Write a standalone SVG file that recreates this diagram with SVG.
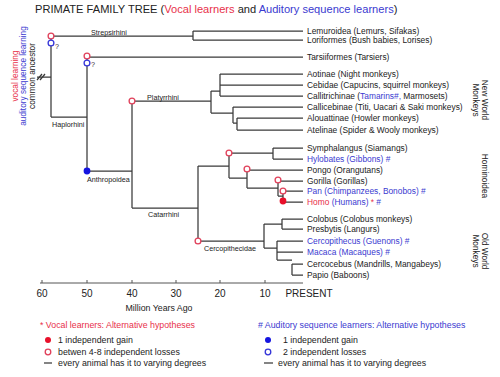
<svg xmlns="http://www.w3.org/2000/svg" width="500" height="377" viewBox="0 0 500 377">
<style>
text{font-family:"Liberation Sans",Arial,sans-serif;fill:#222}
.t{font-size:11.1px}
.leaf{font-size:8.4px}
.clade{font-size:7.2px;fill:#333}
.side{font-size:8.3px}
.ax{font-size:10px}
.lg{font-size:8.8px}
.r{fill:#e8304a}
.b{fill:#3a3ad0}
.k{fill:#222}
.br path{fill:none;stroke:#3a3a3a;stroke-width:1.25}
.oc{fill:#fff;stroke:#e0405a;stroke-width:1.3}
.ob{fill:#fff;stroke:#3535d8;stroke-width:1.3}
.fr{fill:#e8102a}
.fb{fill:#1515e0}
</style>

<g id="title">
<text class="t" x="35" y="13">PRIMATE FAMILY TREE (<tspan class="r">Vocal learners</tspan> and <tspan class="b">Auditory sequence learners</tspan>)</text>
</g>

<g id="ancestor-label" class="side" text-anchor="middle">
<text class="r" transform="translate(18,76) rotate(-90)">vocal learning</text>
<text class="b" transform="translate(26,76) rotate(-90)">auditory sequence learning</text>
<text class="k" transform="translate(34.5,76) rotate(-90)">common ancestor</text>
</g>

<g id="connectors" class="br">
<path d="M37,77H51M51,36V117M51,36H193M193,31V40M193,31H303M193,40H303"/>
<path d="M51,117H87M87,56V171M87,57H303"/>
<path d="M87,171H132M132,101V208M132,101H211M211,91V113M211,91H220M220,74V96M220,74H303M220,85H303M220,96H303"/>
<path d="M211,113H233M233,107V123M233,107H303M233,123H237M237,118V130M237,118H303M237,130H303"/>
<path d="M132,208H198M198,166V241M198,166H229M229,153V178M229,153H273M273,148V159M273,148H303M273,159H303"/>
<path d="M229,178H247M247,170V188M247,170H303M247,188H278M278,181V196M278,181H303M278,196H283M283,191V202M283,191H303M283,202H303"/>
<path d="M198,241H264M264,224V248M264,224H282M282,219V229M282,219H303M282,229H303"/>
<path d="M264,248H277M277,241V260M277,241H303M277,252H303M277,260H292M292,264V275M292,264H303M292,275H303"/>
<path d="M37,80L42,74M40,80L45,74" stroke-width="1"/>
</g>

<g id="markers">
<circle class="oc" cx="51" cy="36" r="2.9"/>
<circle class="ob" cx="51" cy="43" r="2.9"/>
<circle class="oc" cx="87" cy="56" r="2.9"/>
<circle class="ob" cx="87" cy="63" r="2.9"/>
<circle class="oc" cx="132" cy="101" r="2.9"/>
<circle class="fb" cx="87" cy="171" r="3.4"/>
<circle class="oc" cx="229" cy="153" r="2.9"/>
<circle class="oc" cx="247" cy="169" r="2.9"/>
<circle class="oc" cx="278" cy="180" r="2.9"/>
<circle class="oc" cx="283" cy="191" r="2.9"/>
<circle class="fr" cx="283" cy="201" r="3.4"/>
<circle class="oc" cx="198" cy="241" r="2.9"/>
<text class="clade" x="55" y="49">?</text>
<text class="clade" x="91" y="67">?</text>
</g>

<g id="clade-labels" class="clade">
<text x="91" y="34.5">Strepsirhini</text>
<text x="52" y="126.5">Haplorhini</text>
<text x="147" y="99.5">Platyrrhini</text>
<text x="87" y="181.5">Anthropoidea</text>
<text x="148" y="216.5">Catarrhini</text>
<text x="204" y="250.5">Cercopithecidae</text>
</g>

<g id="leaves" class="leaf">
<text x="307" y="34">Lemuroidea (Lemurs, Sifakas)</text>
<text x="307" y="43">Loriformes (Bush babies, Lorises)</text>
<text x="307" y="60">Tarsiiformes (Tarsiers)</text>
<text x="307" y="77">Aotinae (Night monkeys)</text>
<text x="307" y="88">Cebidae (Capucins, squirrel monkeys)</text>
<text x="307" y="99">Callitrichinae (<tspan class="b">Tamarins#,</tspan> Marmosets)</text>
<text x="307" y="110">Callicebinae (Titi, Uacari &amp; Saki monkeys)</text>
<text x="307" y="121">Alouattinae (Howler monkeys)</text>
<text x="307" y="133">Atelinae (Spider &amp; Wooly monkeys)</text>
<text x="307" y="151">Symphalangus (Siamangs)</text>
<text x="307" y="162" class="b">Hylobates (Gibbons) #</text>
<text x="307" y="173">Pongo (Orangutans)</text>
<text x="307" y="184">Gorilla (Gorillas)</text>
<text x="307" y="194" class="b">Pan (Chimpanzees, Bonobos) #</text>
<text x="307" y="205"><tspan class="r">Homo</tspan> <tspan class="b">(Humans)</tspan> <tspan class="r">*</tspan> <tspan class="b">#</tspan></text>
<text x="307" y="222">Colobus (Colobus monkeys)</text>
<text x="307" y="232">Presbytis (Langurs)</text>
<text x="307" y="244" class="b">Cercopithecus (Guenons) #</text>
<text x="307" y="255" class="b">Macaca (Macaques) #</text>
<text x="307" y="267">Cercocebus (Mandrills, Mangabeys)</text>
<text x="307" y="278">Papio (Baboons)</text>
</g>

<g id="groups" class="side" text-anchor="middle">
<text transform="translate(482,100) rotate(90)">New World</text>
<text transform="translate(473,100) rotate(90)">Monkeys</text>
<text transform="translate(482,176) rotate(90)">Hominoidea</text>
<text transform="translate(482,251) rotate(90)">Old World</text>
<text transform="translate(473,251) rotate(90)">Monkeys</text>
</g>

<g id="axis">
<path d="M40,283H303M42,283V280M87,283V280M132,283V280M176,283V280M220,283V280M265,283V280" fill="none" stroke="#555" stroke-width="1"/>
<g class="ax" text-anchor="middle">
<text x="42" y="297">60</text>
<text x="87" y="297">50</text>
<text x="132" y="297">40</text>
<text x="176" y="297">30</text>
<text x="220" y="297">20</text>
<text x="265" y="297">10</text>
<text x="309" y="297">PRESENT</text>
</g>
<text class="lg" x="159" y="311" text-anchor="middle">Million Years Ago</text>
</g>

<g id="legend-vocal" class="lg">
<text class="r" x="40" y="328">* Vocal learners: Alternative hypotheses</text>
<circle class="fr" cx="48" cy="340" r="3"/>
<text x="58" y="343">1 independent gain</text>
<circle class="oc" cx="48" cy="352" r="2.8"/>
<text x="58" y="355">betwen 4-8 independent losses</text>
<path d="M44,363H52" stroke="#333" stroke-width="1.2"/>
<text x="58" y="366">every animal has it to varying degrees</text>
</g>

<g id="legend-auditory" class="lg">
<text class="b" x="258" y="328"># Auditory sequence learners: Alternative hypotheses</text>
<circle class="fb" cx="268" cy="340" r="3"/>
<text x="283" y="343">1 independent gain</text>
<circle class="ob" cx="268" cy="352" r="2.8"/>
<text x="283" y="355">2 independent losses</text>
<path d="M264,363H273" stroke="#333" stroke-width="1.2"/>
<text x="278" y="366">every animal has it to varying degrees</text>
</g>
</svg>
